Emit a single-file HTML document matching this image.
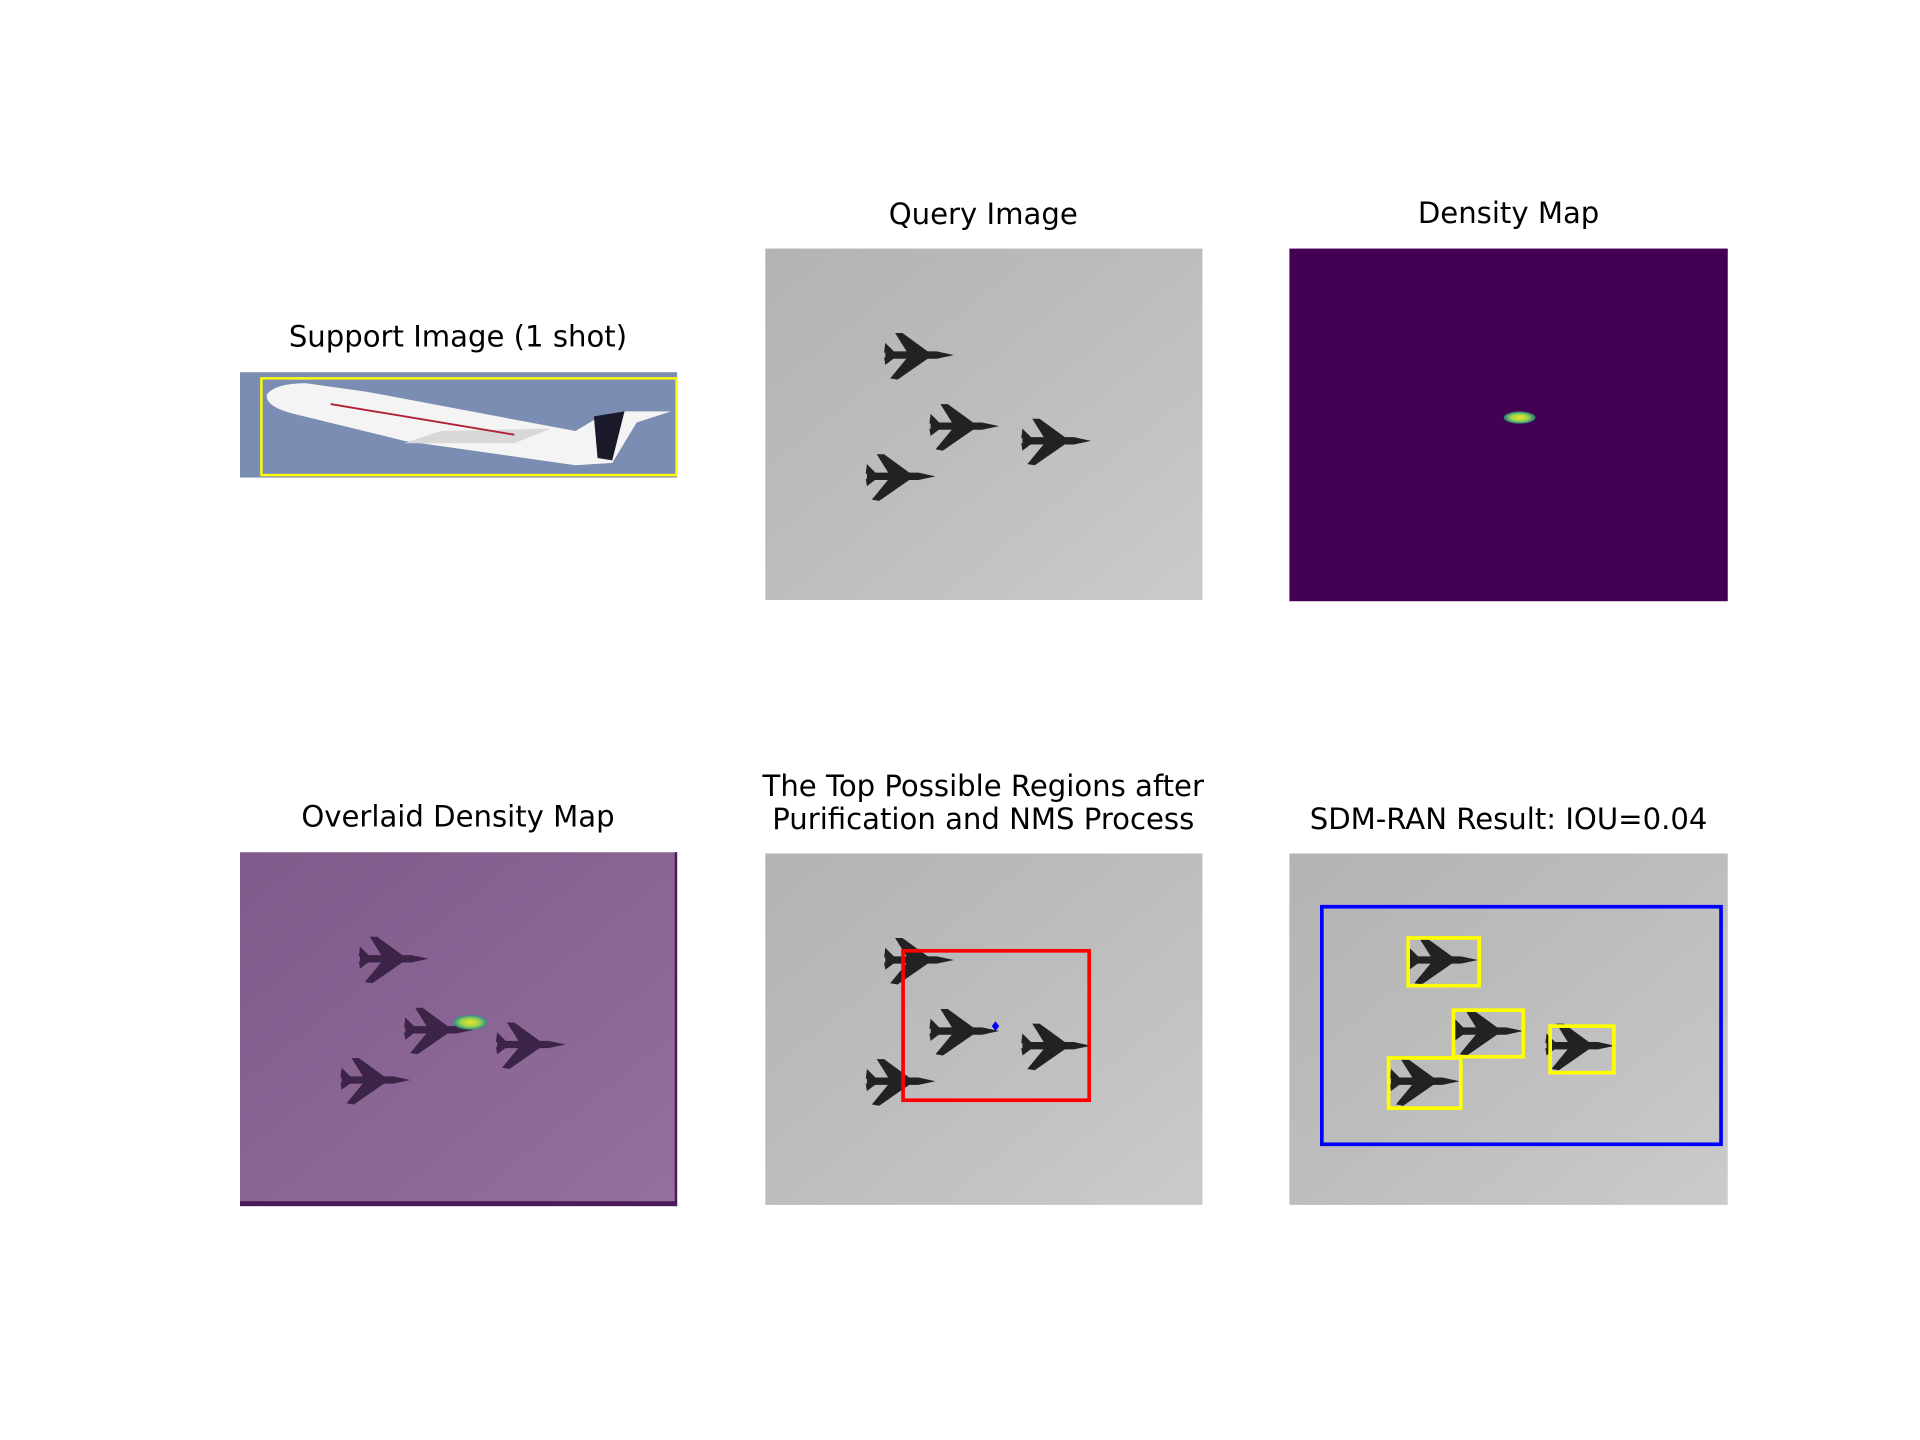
<!DOCTYPE html>
<html><head><meta charset="utf-8"><style>
html,body{margin:0;padding:0;background:#fff;}
svg{display:block;}
text{font-family:"DejaVu Sans","Liberation Sans",sans-serif;font-size:23.8px;fill:#000;text-anchor:middle;}
</style></head><body>
<svg id="fig" width="1920" height="1440" viewBox="0 0 1568 1176" xmlns="http://www.w3.org/2000/svg">
<defs>
<linearGradient id="sky" x1="0" y1="0" x2="1" y2="1">
<stop offset="0" stop-color="#b3b3b3"/><stop offset="0.5" stop-color="#bdbdbd"/><stop offset="1" stop-color="#cbcbcb"/>
</linearGradient>
<linearGradient id="psky" x1="0" y1="0" x2="1" y2="1">
<stop offset="0" stop-color="#7f5a8a"/><stop offset="1" stop-color="#94709e"/>
</linearGradient>
<radialGradient id="blob"><stop offset="0" stop-color="#f2e52a"/><stop offset="0.6" stop-color="#8fd14f"/><stop offset="1" stop-color="#21908d" stop-opacity="0.8"/></radialGradient>
<g id="jet">
<path d="M28,0 L14,-3 L-22,-3 L-28,-2 L-28,2 L-22,3 L14,3 Z"/>
<path d="M8,-2 L-14,-18 L-20,-18 L-10,-2 Z"/>
<path d="M8,2 L-18,20 L-24,19 L-10,2 Z"/>
<path d="M-20,-2 L-28,-10 L-29,-2 Z"/>
<path d="M-20,2 L-28,8 L-29,2 Z"/>
</g>
</defs>

<text x="374" y="283">Support Image (1 shot)</text>
<text x="803" y="183">Query Image</text>
<text x="1232" y="182">Density Map</text>
<text x="374" y="675">Overlaid Density Map</text>
<text x="803" y="650">The Top Possible Regions after</text>
<text x="803" y="677">Purification and NMS Process</text>
<text x="1232" y="677">SDM-RAN Result: IOU=0.04</text>

<g>
<rect x="196" y="304" width="357" height="86" fill="#7b8db2"/>
<path d="M218,322 Q225,313 250,313 L300,320 L470,352 L490,340 L510,336 L548,336 L520,345 L500,378 L470,380 L330,360 L240,338 Q216,332 218,322 Z" fill="#f4f4f4"/>
<path d="M485,340 L510,336 L500,376 L488,374 Z" fill="#1a1a2a"/>
<path d="M360,352 L450,350 L420,362 L330,362 Z" fill="#d8d8d8"/>
<path d="M270,330 L420,355" stroke="#b02030" stroke-width="1.5"/>
<rect x="213.5" y="309" width="339" height="79" fill="none" stroke="#ffff00" stroke-width="2"/>
</g>

<g>
<rect x="625" y="203" width="357" height="287" fill="url(#sky)"/>
<g id="qjets" fill="#222"></g>
</g>

<g>
<rect x="1053" y="203" width="358" height="288" fill="#440154"/>
<ellipse cx="1241" cy="341" rx="13" ry="5" fill="url(#blob)"/>
</g>

<g>
<rect x="196" y="696" width="357" height="289" fill="url(#psky)"/>
<rect x="196" y="981" width="357" height="4" fill="#4a1a5a"/>
<rect x="551" y="696" width="2" height="289" fill="#4a1a5a"/>
<g id="ojets" fill="#3c2448"></g>
<ellipse cx="384" cy="835" rx="14" ry="6" fill="url(#blob)"/>
</g>

<g>
<rect x="625" y="697" width="357" height="287" fill="url(#sky)"/>
<g id="rjets" fill="#222"></g>
<rect x="737.5" y="776.5" width="152" height="122" fill="none" stroke="#ff0000" stroke-width="3"/>
<path d="M813,834 L816,838 L813,842 L810,838 Z" fill="#0000ff"/>
</g>

<g>
<rect x="1053" y="697" width="358" height="287" fill="url(#sky)"/>
<g id="sjets" fill="#222"></g>
<rect x="1079.5" y="740.5" width="326" height="194" fill="none" stroke="#0000ff" stroke-width="3"/>
<g id="yboxes"></g>
</g>
</svg>
<script>
const jetX = [126, 163, 238, 111];
const jetY = [87, 145, 157, 186];
const boxX0 = [97, 134, 213, 81];
const boxY0 = [69, 128, 141, 167];
const boxX1 = [155, 191, 265, 140];
const boxY1 = [108, 166, 179, 208];
const NS = 'http://www.w3.org/2000/svg';
function drawJets(id, ox, oy) {
  const g = document.getElementById(id);
  for (let i = 0; i < jetX.length; i++) {
    const u = document.createElementNS(NS, 'use');
    u.setAttribute('href', '#jet');
    u.setAttribute('transform', 'translate(' + (ox + jetX[i]) + ',' + (oy + jetY[i]) + ')');
    
    
    g.appendChild(u);
  }
}
drawJets('qjets', 625, 203);
drawJets('ojets', 196, 696);
drawJets('rjets', 625, 697);
drawJets('sjets', 1053, 697);
const yb = document.getElementById('yboxes');
for (let i = 0; i < boxX0.length; i++) {
  const r = document.createElementNS(NS, 'rect');
  r.setAttribute('x', 1053 + boxX0[i]);
  r.setAttribute('y', 697 + boxY0[i]);
  r.setAttribute('width', boxX1[i] - boxX0[i]);
  r.setAttribute('height', boxY1[i] - boxY0[i]);
  r.setAttribute('fill', 'none');
  r.setAttribute('stroke', '#ffff00');
  r.setAttribute('stroke-width', '3');
  
  
  yb.appendChild(r);
}
</script>
</body></html>
